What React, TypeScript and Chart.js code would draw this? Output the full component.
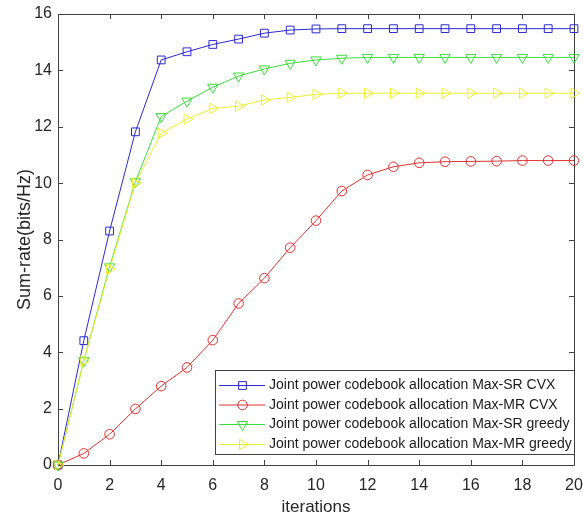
import React, { useEffect, useRef } from "react";
import { Chart, registerables } from "chart.js";

Chart.register(...registerables);

const iterations = [0, 1, 2, 3, 4, 5, 6, 7, 8, 9, 10, 11, 12, 13, 14, 15, 16, 17, 18, 19, 20];
const maxSrCvx = [0, 4.41, 8.3, 11.82, 14.37, 14.66, 14.92, 15.11, 15.32, 15.43, 15.47, 15.48, 15.48, 15.48, 15.48, 15.48, 15.48, 15.48, 15.48, 15.48, 15.48];
const maxMrCvx = [0, 0.41, 1.09, 1.99, 2.8, 3.46, 4.43, 5.73, 6.63, 7.71, 8.67, 9.72, 10.29, 10.58, 10.72, 10.76, 10.77, 10.78, 10.8, 10.8, 10.8];
const maxSrGreedy = [0, 3.7, 7.03, 10.05, 12.36, 12.91, 13.4, 13.8, 14.05, 14.25, 14.37, 14.43, 14.46, 14.46, 14.46, 14.46, 14.46, 14.46, 14.46, 14.46, 14.46];
const maxMrGreedy = [0, 3.7, 6.95, 10.0, 11.77, 12.27, 12.65, 12.73, 12.95, 13.04, 13.15, 13.19, 13.19, 13.19, 13.19, 13.19, 13.19, 13.19, 13.19, 13.19, 13.19];
const seriesLabels = [
  "Joint power codebook allocation Max-SR CVX",
  "Joint power codebook allocation Max-MR CVX",
  "Joint power codebook allocation Max-SR greedy",
  "Joint power codebook allocation Max-MR greedy",
];
const xTicks = [0, 2, 4, 6, 8, 10, 12, 14, 16, 18, 20];
const yTicks = [0, 2, 4, 6, 8, 10, 12, 14, 16];

const FONT = "'Liberation Sans', Arial, Helvetica, sans-serif";
const AXIS_COLOR = "#404040";

const boxPlugin = {
  id: "matlabBox",
  beforeDatasetsDraw(chart: any) {
    const { ctx, chartArea: a, scales } = chart;
    ctx.save();
    ctx.strokeStyle = AXIS_COLOR;
    ctx.lineWidth = 1;
    ctx.beginPath();
    ctx.rect(Math.round(a.left) + 0.5, Math.round(a.top) + 0.5, Math.round(a.right - a.left), Math.round(a.bottom - a.top));
    ctx.stroke();
    const tl = 5;
    ctx.beginPath();
    for (const v of xTicks) {
      const x = Math.round(scales.x.getPixelForValue(v)) + 0.5;
      ctx.moveTo(x, a.bottom);
      ctx.lineTo(x, a.bottom - tl);
      ctx.moveTo(x, a.top);
      ctx.lineTo(x, a.top + tl);
    }
    for (const v of yTicks) {
      const y = Math.round(scales.y.getPixelForValue(v)) + 0.5;
      ctx.moveTo(a.left, y);
      ctx.lineTo(a.left + tl, y);
      ctx.moveTo(a.right, y);
      ctx.lineTo(a.right - tl, y);
    }
    ctx.stroke();
    ctx.restore();
  },
};

function drawMarker(ctx: any, style: string, rotation: number, x: number, y: number, r: number, color: string) {
  ctx.save();
  ctx.strokeStyle = color;
  ctx.lineWidth = 1;
  ctx.beginPath();
  if (style === "rect") {
    const s = Math.SQRT1_2 * r;
    ctx.rect(x - s, y - s, 2 * s, 2 * s);
  } else if (style === "circle") {
    ctx.arc(x, y, r, 0, Math.PI * 2);
  } else {
    let rad = (rotation * Math.PI) / 180;
    ctx.moveTo(x + Math.sin(rad) * r, y - Math.cos(rad) * r);
    rad += (2 * Math.PI) / 3;
    ctx.lineTo(x + Math.sin(rad) * r, y - Math.cos(rad) * r);
    rad += (2 * Math.PI) / 3;
    ctx.lineTo(x + Math.sin(rad) * r, y - Math.cos(rad) * r);
    ctx.closePath();
  }
  ctx.stroke();
  ctx.restore();
}

const legendPlugin = {
  id: "insideLegend",
  afterDraw(chart: any) {
    const { ctx } = chart;
    const left = 215.5, top = 370.5, w = 359, h = 84;
    ctx.save();
    ctx.fillStyle = "#ffffff";
    ctx.strokeStyle = AXIS_COLOR;
    ctx.lineWidth = 1;
    ctx.fillRect(left, top, w, h);
    ctx.strokeRect(left, top, w, h);
    const rows = [385, 404.5, 424, 444];
    chart.data.datasets.forEach((ds: any, i: number) => {
      const y = rows[i];
      ctx.strokeStyle = ds.borderColor;
      ctx.lineWidth = 1;
      ctx.beginPath();
      ctx.moveTo(219, y + 0.5);
      ctx.lineTo(265, y + 0.5);
      ctx.stroke();
      drawMarker(ctx, ds.pointStyle, ds.pointRotation || 0, 242.5, y + 0.5, ds.pointRadius, ds.borderColor);
      ctx.fillStyle = "#1a1a1a";
      ctx.font = `14px ${FONT}`;
      ctx.textBaseline = "middle";
      ctx.textAlign = "left";
      ctx.fillText(ds.label, 269, y + 0.5);
    });
    ctx.restore();
  },
};

export default function App() {
  const ref = useRef<HTMLCanvasElement | null>(null);
  useEffect(() => {
    document.body.style.margin = "0";
    const mk = (label: string, data: number[], color: string, style: string, rot: number, r: number, order: number) => ({
      label,
      data: iterations.map((x, i) => ({ x, y: data[i] })),
      borderColor: color,
      backgroundColor: "rgba(0,0,0,0)",
      borderWidth: 1,
      pointStyle: style,
      pointRotation: rot,
      pointRadius: r,
      pointBorderWidth: 1,
      pointBackgroundColor: "rgba(0,0,0,0)",
      pointBorderColor: color,
      tension: 0,
      clip: false,
      order,
    });
    const chart = new Chart(ref.current!, {
      type: "line",
      data: {
        datasets: [
          mk(seriesLabels[0], maxSrCvx, "#2a2ad0", "rect", 0, 5.5, 4),
          mk(seriesLabels[1], maxMrCvx, "#e03030", "circle", 0, 4.8, 3),
          mk(seriesLabels[2], maxSrGreedy, "#3cdc3c", "triangle", 180, 6, 2),
          mk(seriesLabels[3], maxMrGreedy, "#eeee30", "triangle", 90, 6, 1),
        ] as any,
      },
      options: {
        responsive: false,
        animation: false,
        layout: { padding: { top: 14, right: 9, left: 0, bottom: 0 } },
        plugins: { legend: { display: false }, tooltip: { enabled: false } },
        scales: {
          x: {
            type: "linear",
            min: 0,
            max: 20,
            afterBuildTicks: (s: any) => { s.ticks = xTicks.map((v) => ({ value: v })); },
            afterFit: (s: any) => { s.height = 50; s.paddingLeft = 0; s.paddingRight = 0; },
            grid: { display: false, drawTicks: false },
            border: { display: false },
            ticks: { padding: 11, color: "#262626", font: { family: FONT, size: 16 } },
            title: { display: true, text: "iterations", color: "#262626", font: { family: FONT, size: 17 }, padding: { top: 0, bottom: -3 } },
          },
          y: {
            type: "linear",
            min: 0,
            max: 16,
            afterBuildTicks: (s: any) => { s.ticks = yTicks.map((v) => ({ value: v })); },
            afterFit: (s: any) => { s.width = 58; s.paddingTop = 0; s.paddingBottom = 0; },
            grid: { display: false, drawTicks: false },
            border: { display: false },
            ticks: { padding: 6, color: "#262626", font: { family: FONT, size: 16 } },
            title: { display: true, text: "Sum-rate(bits/Hz)", color: "#262626", font: { family: FONT, size: 18 }, padding: { top: 14, bottom: 0 } },
          },
        },
      },
      plugins: [boxPlugin, legendPlugin],
    });
    return () => chart.destroy();
  }, []);
  return (
    <div style={{ position: "fixed", left: 0, top: 0, width: 583, height: 515, background: "#fff" }}>
      <canvas ref={ref} width={583} height={515} />
    </div>
  );
}
